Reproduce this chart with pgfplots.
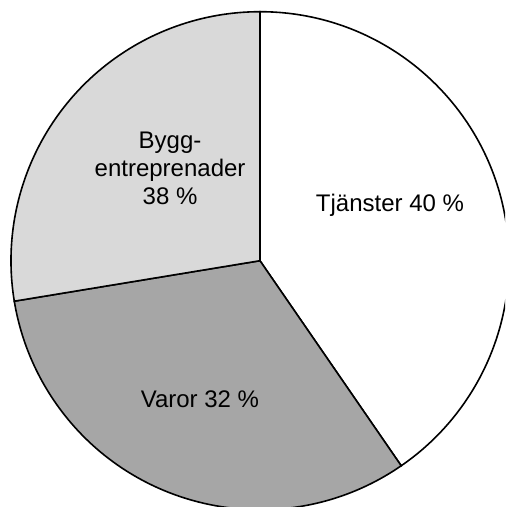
\documentclass[border=0pt]{standalone}
\usepackage{fontspec}
\setmainfont{Liberation Sans}
\usepackage{pgfplots}
\usepackage{pgfplotstable}
\pgfplotsset{compat=1.18}
\definecolor{bygg}{HTML}{D9D9D9}
\definecolor{varor}{HTML}{A6A6A6}
\pgfplotstableread{
name value
Tjanster 40.4
Varor 32.0
Bygg 27.6
}\piedata
\begin{document}
\begin{tikzpicture}
\pgfplotstablegetelem{0}{value}\of\piedata \let\vA\pgfplotsretval
\pgfplotstablegetelem{1}{value}\of\piedata \let\vB\pgfplotsretval
\pgfplotstablegetelem{2}{value}\of\piedata \let\vC\pgfplotsretval
\pgfmathsetmacro{\aA}{90}
\pgfmathsetmacro{\aB}{\aA-3.6*\vA}
\pgfmathsetmacro{\aC}{\aB-3.6*\vB}
\pgfmathsetmacro{\aD}{\aC-3.6*\vC}
\begin{axis}[
  scale only axis,
  width=252.5pt, height=253.5pt,
  xmin=-1.044, xmax=0.984,
  ymin=-0.989, ymax=1.047,
  hide axis,
]
\path (axis cs:-1.044,-0.989) rectangle (axis cs:0.984,1.047);
\filldraw[fill=white, draw=black, line width=0.8pt, line join=miter]
  (axis cs:0,0) -- ++(\aA:124.5pt) arc[start angle=\aA, end angle=\aB, radius=124.5pt] -- cycle;
\filldraw[fill=varor, draw=black, line width=0.8pt, line join=miter]
  (axis cs:0,0) -- ++(\aB:124.5pt) arc[start angle=\aB, end angle=\aC, radius=124.5pt] -- cycle;
\filldraw[fill=bygg, draw=black, line width=0.8pt, line join=miter]
  (axis cs:0,0) -- ++(\aC:124.5pt) arc[start angle=\aC, end angle=\aD, radius=124.5pt] -- cycle;
\node[anchor=base, font=\fontsize{12}{14}\selectfont] at (axis cs:0.522,0.197) {Tjänster 40 \%};
\node[anchor=base, font=\fontsize{12}{14}\selectfont] at (axis cs:-0.241,-0.588) {Varor 32 \%};
\node[align=center, font=\fontsize{12}{14}\selectfont, inner sep=0pt] at (axis cs:-0.361,0.372) {Bygg-\\entreprenader\\38 \%};
\end{axis}
\end{tikzpicture}
\end{document}
